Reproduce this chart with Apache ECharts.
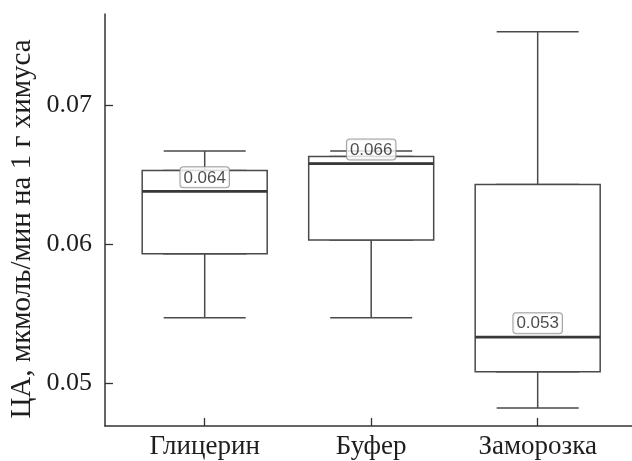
<!DOCTYPE html>
<html>
<head>
<meta charset="utf-8">
<script src="https://cdn.jsdelivr.net/npm/echarts@6/dist/echarts.min.js"></script>
<style>html,body{margin:0;padding:0;background:#fff}#c{width:632px;height:461px}</style>
</head>
<body>
<div id="c"></div>
<script>
const categories = ['Глицерин', 'Буфер', 'Заморозка'];
const lowWhisker = [0.0547, 0.0547, 0.0482];
const q1 = [0.0593, 0.0603, 0.0508];
const median = [0.0638, 0.0658, 0.0533];
const q3 = [0.0653, 0.0663, 0.0643];
const highWhisker = [0.0667, 0.0667, 0.0753];
const yTicks = [0.05, 0.06, 0.07];
const yTitle = 'ЦА, мкмоль/мин на 1 г химуса';

const xPos = categories.map((c, i) => i + 1);
const lineColor = '#4a4a4a';
const serif = 'Liberation Serif';

const capsData = xPos.map((x, i) => [x, lowWhisker[i], q1[i], median[i], q3[i], highWhisker[i]]);
const boxData = xPos.map((x, i) => [x, q1[i], q1[i], median[i], q3[i], q3[i]]);
const medData = xPos.map((x, i) => [x, median[i], median[i], median[i], median[i], median[i]]);
const labelData = xPos.map((x, i) => [x, median[i]]);

const xMin = 0.4012, xMax = 3.5665;
const hiddenX = { type: 'value', min: xMin, max: xMax, show: false };

const chart = echarts.init(document.getElementById('c'), null, { renderer: 'canvas' });
chart.setOption({
  animation: false,
  backgroundColor: '#fff',
  grid: { left: 105, right: 0, top: 14, bottom: 35, containLabel: false, outerBoundsMode: 'none' },
  xAxis: [
    {
      type: 'value', min: xMin, max: xMax,
      splitLine: { show: false },
      axisLine: { show: true, lineStyle: { color: '#333', width: 1.5 } },
      axisTick: { show: true, inside: true, length: 8, customValues: xPos, lineStyle: { color: '#333', width: 1.3 } },
      axisLabel: {
        customValues: xPos, margin: 7, hideOverlap: false,
        formatter: v => categories[Math.round(v) - 1] || '',
        fontFamily: serif, fontSize: 27, color: '#1e1e1e'
      }
    },
    hiddenX, hiddenX
  ],
  yAxis: {
    type: 'value', min: 0.0469, max: 0.07657,
    splitLine: { show: false },
    axisLine: { show: true, lineStyle: { color: '#333', width: 1.5 } },
    axisTick: { show: true, inside: true, length: 8, customValues: yTicks, lineStyle: { color: '#333', width: 1.3 } },
    axisLabel: {
      customValues: yTicks, margin: 13,
      formatter: v => v.toFixed(2),
      fontFamily: serif, fontSize: 26, color: '#1e1e1e'
    },
    name: yTitle,
    nameLocation: 'middle',
    nameGap: 68,
    nameMoveOverlap: false,
    nameTextStyle: { fontFamily: serif, fontSize: 29, color: '#1e1e1e', padding: [0, 18, 0, 0] }
  },
  series: [
    {
      type: 'boxplot', xAxisIndex: 0, z: 2,
      boxWidth: [82, 82],
      itemStyle: { color: '#fff', borderColor: lineColor, borderWidth: 1.5 },
      data: capsData
    },
    {
      type: 'boxplot', xAxisIndex: 1, z: 3,
      boxWidth: [125, 125],
      itemStyle: { color: '#fff', borderColor: lineColor, borderWidth: 1.5 },
      data: boxData
    },
    {
      type: 'boxplot', xAxisIndex: 2, z: 4,
      boxWidth: [125, 125],
      itemStyle: { color: 'rgba(0,0,0,0)', borderColor: '#383838', borderWidth: 2.7 },
      data: medData
    },
    {
      type: 'scatter', xAxisIndex: 0, z: 6,
      symbolSize: 0,
      data: labelData,
      label: {
        show: true, position: 'top', distance: 4,
        formatter: p => p.value[1].toFixed(3),
        fontFamily: 'Liberation Sans', fontSize: 17, color: '#1e1e1e',
        backgroundColor: '#fff', borderColor: '#8a8a8a', borderWidth: 1, borderRadius: 3,
        padding: [2, 3, 1, 3]
      }
    }
  ]
});
</script>
</body>
</html>
